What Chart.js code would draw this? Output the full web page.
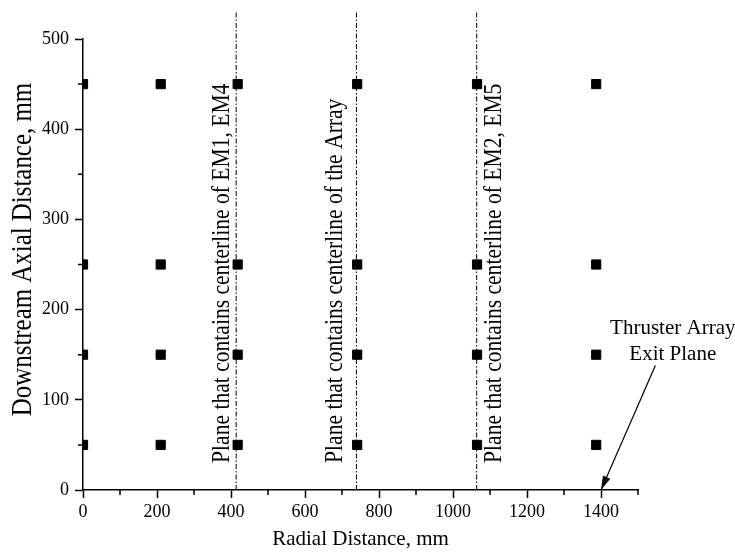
<!DOCTYPE html>
<html>
<head>
<meta charset="utf-8">
<title>Probe locations</title>
<script src="https://cdn.jsdelivr.net/npm/chart.js@4.4.0/dist/chart.umd.min.js"></script>
<style>
  html, body { margin: 0; padding: 0; background: #fff; }
</style>
</head>
<body>
<canvas id="probeChart" width="735" height="560"></canvas>
<script>
const SERIF = "'Liberation Serif', 'Times New Roman', serif";

// probe grid (mm)
const radialPositions = [0, 210, 418, 741, 1065, 1387];
const axialPositions = [50, 150, 250, 450];

// centerline planes
const planeX = [414, 739, 1064];
const planeLabels = [
    'Plane that contains centerline of EM1, EM4',
    'Plane that contains centerline of the Array',
    'Plane that contains centerline of EM2, EM5'
];
const planeSide = [-14, -21, 17];   // px offset of label from its line
const planeTop = 530;
const planeLabelStart = 30;

// exit plane callout
const exitArrow = [{x: 1547, y: 138}, {x: 1400, y: 0}];
const exitLabel = ['Thruster Array', 'Exit Plane'];
const exitLabelAt = {x: 1594, y: 173};

// axes
const xTickLabels = [0, 200, 400, 600, 800, 1000, 1200, 1400];
const yTickLabels = [0, 100, 200, 300, 400, 500];

const probePoints = [];
radialPositions.forEach(r => axialPositions.forEach(a => probePoints.push({x: r, y: a})));

const planeSets = planeX.map(v => ({
    type: 'line',
    data: [{x: v, y: 0}, {x: v, y: planeTop}],
    borderColor: '#000',
    borderWidth: 1,
    borderDash: [5, 2, 1.5, 2],
    pointRadius: 0,
    clip: false,
    order: 2
}));

// rotated text, squeezed along its length
function drawUpText(ctx, text, px, py, squeeze) {
    ctx.save();
    ctx.translate(px, py);
    ctx.rotate(-Math.PI / 2);
    ctx.scale(squeeze, 1);
    ctx.fillText(text, 0, 0);
    ctx.restore();
}

const annotations = {
    id: 'annotations',
    afterDatasetsDraw(chart) {
        const {ctx, scales: {x, y}} = chart;
        ctx.save();
        ctx.fillStyle = '#000';
        ctx.strokeStyle = '#000';

        // minor ticks
        ctx.lineWidth = 1.5;
        ctx.beginPath();
        x.ticks.forEach(t => {
            if (xTickLabels.includes(t.value)) return;
            const px = x.getPixelForValue(t.value);
            ctx.moveTo(px, y.bottom);
            ctx.lineTo(px, y.bottom + 5);
        });
        y.ticks.forEach(t => {
            if (yTickLabels.includes(t.value)) return;
            const py = y.getPixelForValue(t.value);
            ctx.moveTo(x.left, py);
            ctx.lineTo(x.left - 5, py);
        });
        ctx.stroke();

        // plane labels
        ctx.font = '26px ' + SERIF;
        ctx.textAlign = 'left';
        ctx.textBaseline = 'middle';
        planeX.forEach((v, i) => {
            drawUpText(ctx, planeLabels[i], x.getPixelForValue(v) + planeSide[i], y.getPixelForValue(planeLabelStart), 0.83);
        });

        // arrow head
        const pts = chart.getDatasetMeta(chart.data.datasets.length - 1).data;
        const from = pts[0], tip = pts[1];
        const ang = Math.atan2(tip.y - from.y, tip.x - from.x);
        const len = 14, half = 4;
        ctx.beginPath();
        ctx.moveTo(tip.x, tip.y);
        ctx.lineTo(tip.x - len * Math.cos(ang) + half * Math.sin(ang), tip.y - len * Math.sin(ang) - half * Math.cos(ang));
        ctx.lineTo(tip.x - len * Math.cos(ang) - half * Math.sin(ang), tip.y - len * Math.sin(ang) + half * Math.cos(ang));
        ctx.closePath();
        ctx.fill();

        // callout text
        ctx.font = '21px ' + SERIF;
        ctx.textAlign = 'center';
        ctx.textBaseline = 'alphabetic';
        const lx = x.getPixelForValue(exitLabelAt.x);
        const ly = y.getPixelForValue(exitLabelAt.y);
        exitLabel.forEach((s, i) => ctx.fillText(s, lx, ly + i * 26));

        // y axis title
        ctx.font = '30px ' + SERIF;
        ctx.textBaseline = 'middle';
        drawUpText(ctx, 'Downstream Axial Distance, mm', 23, (y.top + y.bottom) / 2 - 15, 0.83);
        ctx.restore();
    }
};

new Chart(document.getElementById('probeChart'), {
    type: 'scatter',
    data: {
        datasets: [
            {
                data: probePoints,
                pointStyle: 'rect',
                pointRadius: 6.5,
                backgroundColor: '#000',
                borderColor: '#000',
                borderWidth: 1,
                clip: 0,
                order: 1
            },
            ...planeSets,
            {
                type: 'line',
                data: exitArrow,
                borderColor: '#000',
                borderWidth: 1.2,
                pointRadius: 0,
                clip: false,
                order: 0
            }
        ]
    },
    options: {
        responsive: false,
        animation: false,
        devicePixelRatio: 1,
        layout: {padding: {left: 0, top: 39, right: 97, bottom: 0}},
        plugins: {legend: {display: false}, tooltip: {enabled: false}},
        scales: {
            x: {
                type: 'linear',
                min: 0,
                max: 1500,
                afterFit: s => { s.height = 70; },
                border: {display: true, color: '#000', width: 1.5},
                grid: {
                    drawOnChartArea: false,
                    tickLength: 8,
                    tickWidth: 1.5,
                    tickColor: c => xTickLabels.includes(c.tick.value) ? '#000' : 'rgba(0,0,0,0)'
                },
                ticks: {
                    stepSize: 100,
                    autoSkip: false,
                    maxRotation: 0,
                    padding: 3,
                    color: '#000',
                    font: {family: SERIF, size: 18},
                    callback: v => xTickLabels.includes(v) ? String(v) : ''
                },
                title: {
                    display: true,
                    text: 'Radial Distance, mm',
                    color: '#000',
                    font: {family: SERIF, size: 21},
                    padding: {top: 0, bottom: 8}
                }
            },
            y: {
                type: 'linear',
                min: 0,
                max: 500,
                afterFit: s => { s.width = 83; },
                border: {display: true, color: '#000', width: 1.5},
                grid: {
                    drawOnChartArea: false,
                    tickLength: 8,
                    tickWidth: 1.5,
                    tickColor: c => yTickLabels.includes(c.tick.value) ? '#000' : 'rgba(0,0,0,0)'
                },
                ticks: {
                    stepSize: 50,
                    autoSkip: false,
                    padding: 6,
                    color: '#000',
                    font: {family: SERIF, size: 18},
                    callback: v => yTickLabels.includes(v) ? String(v) : ''
                }
            }
        }
    },
    plugins: [annotations]
});
</script>
</body>
</html>
